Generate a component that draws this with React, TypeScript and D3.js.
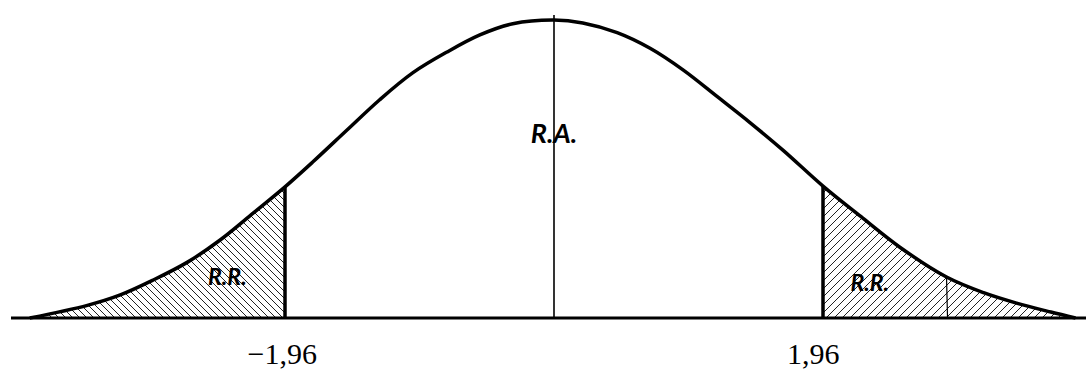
import React from "react";
import * as d3 from "d3";

// Curve points: standardized value z and density height
const curveZ = [-3.82, -3.4, -3.16, -2.92, -2.67, -2.43, -2.19, -1.96, -1.76, -1.51, -1.27, -1.03, -0.78, -0.54, -0.3, 0,
  0.21, 0.46, 0.7, 0.94, 1.19, 1.43, 1.67, 1.96, 2.25, 2.52, 2.86, 3.13, 3.37, 3.62, 3.8];
const curveDensity = [0, 0.017, 0.031, 0.051, 0.075, 0.105, 0.141, 0.176, 0.209, 0.252, 0.293, 0.329, 0.357, 0.38, 0.395, 0.4,
  0.396, 0.383, 0.362, 0.333, 0.297, 0.262, 0.225, 0.177, 0.134, 0.095, 0.055, 0.034, 0.02, 0.008, 0];

const criticalValues = [-1.96, 1.96];
const tickLabels = ["\u22121,96", "1,96"];
const regionLabels = ["R.R.", "R.A.", "R.R."];
const regionLabelZ = [-2.38, 0, 2.3];
const regionLabelDensity = [0.044, 0.235, 0.036];
const extraMarkZ = [2.86];

export default function App() {
  const W = 1086, H = 369;
  const x = d3.scaleLinear().domain([-1.96, 1.96]).range([285, 823]);
  const y = d3.scaleLinear().domain([0, 0.4]).range([318, 20]);
  const pts = curveZ.map((z, i) => ({ z, d: curveDensity[i] }));
  const curve = d3.curveCatmullRom.alpha(0.5);
  const line = d3.line<any>().x(p => x(p.z)).y(p => y(p.d)).curve(curve);
  const area = d3.area<any>().x(p => x(p.z)).y0(y(0)).y1(p => y(p.d)).curve(curve);
  const leftPts = pts.filter(p => p.z <= criticalValues[0]);
  const rightPts = pts.filter(p => p.z >= criticalValues[1]);
  const densAt = (z: number) => pts.find(p => p.z === z)!.d;
  return (
    <svg width={W} height={H} style={{ position: "absolute", left: 0, top: 0, background: "#fff" }}>
      <defs>
        <pattern id="hatchL" patternUnits="userSpaceOnUse" width="7" height="7">
          <path d="M0,0 L7,7 M-1,6 L1,8 M6,-1 L8,1" stroke="#222" strokeWidth="1" />
        </pattern>
        <pattern id="hatchR" patternUnits="userSpaceOnUse" width="8" height="8">
          <path d="M0,8 L8,0 M-1,1 L1,-1 M7,9 L9,7" stroke="#222" strokeWidth="1" />
        </pattern>
      </defs>
      <path d={area(leftPts)!} fill="url(#hatchL)" />
      <path d={area(rightPts)!} fill="url(#hatchR)" />
      <path d={line(pts)!} fill="none" stroke="#000" strokeWidth={3.5} strokeLinejoin="round" />
      <line x1={11} x2={W} y1={y(0)} y2={y(0)} stroke="#000" strokeWidth={3} />
      {criticalValues.map(c => (
        <line key={c} x1={x(c)} x2={x(c)} y1={y(densAt(c))} y2={y(0)} stroke="#000" strokeWidth={3.5} />
      ))}
      <line x1={x(0)} x2={x(0)} y1={15} y2={y(0)} stroke="#000" strokeWidth={1.6} />
      {extraMarkZ.map(z => (
        <line key={z} x1={x(z)} x2={x(z) + 1} y1={y(densAt(z))} y2={y(0)} stroke="#000" strokeWidth={1.2} />
      ))}
      {regionLabels.map((t, i) => (
        <text key={i} x={x(regionLabelZ[i])} y={y(regionLabelDensity[i])} textAnchor="middle"
          fontFamily="Lato, sans-serif" fontWeight="bold" fontStyle="italic"
          fontSize={i === 1 ? 27 : 23} fill="#000">{t}</text>
      ))}
      <text x={x(criticalValues[0]) + 32} y={364} textAnchor="end"
        fontFamily="'Liberation Serif', serif" fontSize={30} fill="#000">{tickLabels[0]}</text>
      <text x={x(criticalValues[1]) - 36} y={364} textAnchor="start"
        fontFamily="'Liberation Serif', serif" fontSize={30} fill="#000">{tickLabels[1]}</text>
    </svg>
  );
}
